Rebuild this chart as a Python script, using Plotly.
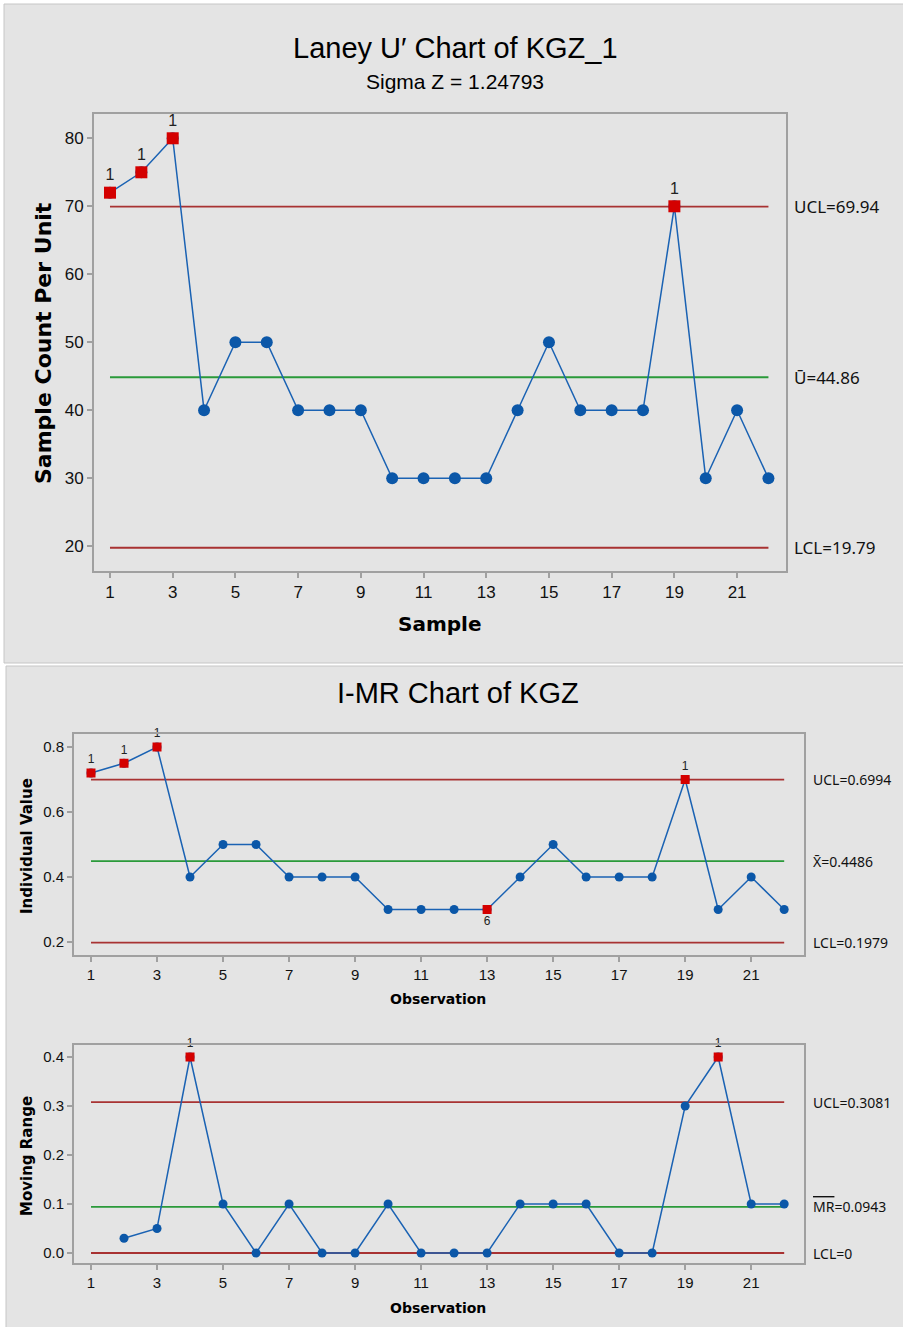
import plotly.graph_objects as go

W, H = 903, 1327

# ---------------- data ----------------
samples = list(range(1, 23))
u_values = [72, 75, 80, 40, 50, 50, 40, 40, 40, 30, 30, 30, 30, 40, 50, 40, 40, 40, 70, 30, 40, 30]
u_ucl, u_center, u_lcl = 69.94, 44.86, 19.79
u_flag_samples = [1, 2, 3, 19]
u_flag_labels = ["1", "1", "1", "1"]
u_yticks = [20, 30, 40, 50, 60, 70, 80]

observations = list(range(1, 23))
i_values = [0.72, 0.75, 0.80, 0.40, 0.50, 0.50, 0.40, 0.40, 0.40, 0.30, 0.30,
            0.30, 0.30, 0.40, 0.50, 0.40, 0.40, 0.40, 0.70, 0.30, 0.40, 0.30]
i_ucl, i_center, i_lcl = 0.6994, 0.4486, 0.1979
i_flag_obs = [1, 2, 3, 13, 19]
i_flag_labels = ["1", "1", "1", "6", "1"]
i_flag_pos = ["top center", "top center", "top center", "bottom center", "top center"]
i_yticks = [0.2, 0.4, 0.6, 0.8]

mr_obs = list(range(2, 23))
mr_values = [0.03, 0.05, 0.40, 0.10, 0.00, 0.10, 0.00, 0.00, 0.10, 0.00, 0.00,
             0.00, 0.10, 0.10, 0.10, 0.00, 0.00, 0.30, 0.40, 0.10, 0.10]
mr_ucl, mr_center, mr_lcl = 0.3081, 0.0943, 0.0
mr_flag_obs = [4, 20]
mr_flag_labels = ["1", "1"]
mr_yticks = [0.0, 0.1, 0.2, 0.3, 0.4]

x_ticks = list(range(1, 22, 2))

# ---------------- styles ----------------
BLUE = "#0b57a8"
LINEBLUE = "#1a62b3"
RED = "#d40000"
LIMIT = "#a83232"
CENTER = "#2a9a3a"
FRAME = "#a0a0a0"
PANEL = "#e4e4e4"
TICKFONT = "Liberation Sans, Arial, sans-serif"
LABFONT = "Noto Sans, Open Sans, sans-serif"
TITLEFONT = "DejaVu Sans, Verdana, sans-serif"


def px_x(p):
    return p / W


def px_y(p):
    return 1 - p / H


fig = go.Figure()


def add_chart(xs, ys, ucl, cl, lcl, flag_x, flag_lab, flag_pos, xa, ya, msize, lsize, xline):
    fx = [xline[0], xline[-1]]
    for v, c in [(ucl, LIMIT), (cl, CENTER), (lcl, LIMIT)]:
        fig.add_trace(go.Scatter(x=fx, y=[v, v], mode="lines", line=dict(color=c, width=1.8),
                                 xaxis=xa, yaxis=ya, showlegend=False, hoverinfo="skip"))
    fig.add_trace(go.Scatter(x=xs, y=ys, mode="lines+markers",
                             line=dict(color=LINEBLUE, width=1.5),
                             marker=dict(color=BLUE, size=msize, symbol="circle"),
                             xaxis=xa, yaxis=ya, showlegend=False))
    fy = [ys[xs.index(v)] for v in flag_x]
    fig.add_trace(go.Scatter(x=flag_x, y=fy, mode="markers+text", text=flag_lab,
                             textposition=flag_pos, cliponaxis=False,
                             textfont=dict(family=TICKFONT, size=lsize, color="#222"),
                             marker=dict(color=RED, size=msize, symbol="square"),
                             xaxis=xa, yaxis=ya, showlegend=False))


add_chart(samples, u_values, u_ucl, u_center, u_lcl, u_flag_samples, u_flag_labels,
          "top center", "x", "y", 12, 16, samples)
add_chart(observations, i_values, i_ucl, i_center, i_lcl, i_flag_obs, i_flag_labels,
          i_flag_pos, "x2", "y2", 9, 12, observations)
add_chart(mr_obs, mr_values, mr_ucl, mr_center, mr_lcl, mr_flag_obs, mr_flag_labels,
          "top center", "x3", "y3", 9, 12, observations)

axis_common = dict(showline=True, mirror=True, linecolor=FRAME, linewidth=2,
                   ticks="outside", ticklen=5, tickwidth=1.5, tickcolor=FRAME,
                   showgrid=False, zeroline=False, automargin=False)

fig.update_layout(
    width=W, height=H,
    margin=dict(l=0, r=0, t=0, b=0),
    paper_bgcolor="white", plot_bgcolor="white",
    xaxis=dict(domain=[px_x(94), px_x(786)], range=[0.49, 22.56], anchor="y",
               tickvals=x_ticks, tickfont=dict(family=TICKFONT, size=17, color="#111"),
               **axis_common),
    yaxis=dict(domain=[px_y(571), px_y(114)], range=[16.37, 83.57], anchor="x",
               tickvals=u_yticks, tickfont=dict(family=TICKFONT, size=17, color="#111"),
               **axis_common),
    xaxis2=dict(domain=[px_x(74), px_x(804)], range=[0.485, 22.6], anchor="y2",
                tickvals=x_ticks, tickfont=dict(family=TICKFONT, size=15, color="#111"),
                **axis_common),
    yaxis2=dict(domain=[px_y(955), px_y(734)], range=[0.16, 0.84], anchor="x2",
                tickvals=i_yticks, tickformat=".1f",
                tickfont=dict(family=TICKFONT, size=15, color="#111"), **axis_common),
    xaxis3=dict(domain=[px_x(74), px_x(804)], range=[0.485, 22.6], anchor="y3",
                tickvals=x_ticks, tickfont=dict(family=TICKFONT, size=15, color="#111"),
                **axis_common),
    yaxis3=dict(domain=[px_y(1263), px_y(1045)], range=[-0.0204, 0.4245], anchor="x3",
                tickvals=mr_yticks, tickformat=".1f",
                tickfont=dict(family=TICKFONT, size=15, color="#111"), **axis_common),
)

# panel backgrounds
fig.add_shape(type="rect", xref="paper", yref="paper", x0=px_x(4), x1=1.01,
              y0=px_y(663), y1=px_y(4), fillcolor=PANEL, line=dict(color="#c6c6c6", width=1),
              layer="below")
fig.add_shape(type="rect", xref="paper", yref="paper", x0=px_x(6), x1=1.01,
              y0=-0.01, y1=px_y(666), fillcolor=PANEL, line=dict(color="#c6c6c6", width=1),
              layer="below")

ann = []


def text(x, y, s, size, family=TICKFONT, color="#000", angle=0, xanchor="center", **kw):
    ann.append(dict(x=x, y=y, text=s, showarrow=False, textangle=angle, xanchor=xanchor,
                    yanchor="middle", font=dict(family=family, size=size, color=color), **kw))


# titles
text(0.5 * (px_x(4) + 1) + 0.002, px_y(48), "Laney U′ Chart of KGZ_1", 29, xref="paper", yref="paper")
text(0.5 * (px_x(4) + 1) + 0.002, px_y(82), "Sigma Z = 1.24793", 21, xref="paper", yref="paper")
text(0.5 * (px_x(6) + 1) + 0.004, px_y(693), "I-MR Chart of KGZ", 29, xref="paper", yref="paper")

# axis titles
text(px_x(43), px_y(343), "<b>Sample Count Per Unit</b>", 22, family=TITLEFONT, angle=-90,
     xref="paper", yref="paper")
text(px_x(439), px_y(624), "<b>Sample</b>", 20, family=TITLEFONT, xref="paper", yref="paper")
text(px_x(27), px_y(846), "<b>Individual Value</b>", 15, family=TITLEFONT, angle=-90,
     xref="paper", yref="paper")
text(px_x(438), px_y(999), "<b>Observation</b>", 14, family=TITLEFONT, xref="paper", yref="paper")
text(px_x(27), px_y(1156), "<b>Moving Range</b>", 15, family=TITLEFONT, angle=-90,
     xref="paper", yref="paper")
text(px_x(438), px_y(1308), "<b>Observation</b>", 14, family=TITLEFONT, xref="paper", yref="paper")

# control limit labels
for v, s in [(u_ucl, f"UCL={u_ucl:.2f}"), (u_center, f"Ū={u_center:.2f}"), (u_lcl, f"LCL={u_lcl:.2f}")]:
    text(px_x(792), v, s, 17, family=LABFONT, color="#111", xanchor="left", xref="paper", yref="y")
for v, s in [(i_ucl, f"UCL={i_ucl:.4f}"), (i_center, f"X̄={i_center:.4f}"), (i_lcl, f"LCL={i_lcl:.4f}")]:
    text(px_x(811), v, s, 14, family=LABFONT, color="#111", xanchor="left", xref="paper", yref="y2")
for v, s in [(mr_ucl, f"UCL={mr_ucl:.4f}"),
             (mr_center, f"<span style='text-decoration:overline'>MR</span>={mr_center:.4f}"),
             (mr_lcl, "LCL=0")]:
    text(px_x(811), v, s, 14, family=LABFONT, color="#111", xanchor="left", xref="paper", yref="y3")

fig.update_layout(annotations=ann)

fig.write_html("out.html")
